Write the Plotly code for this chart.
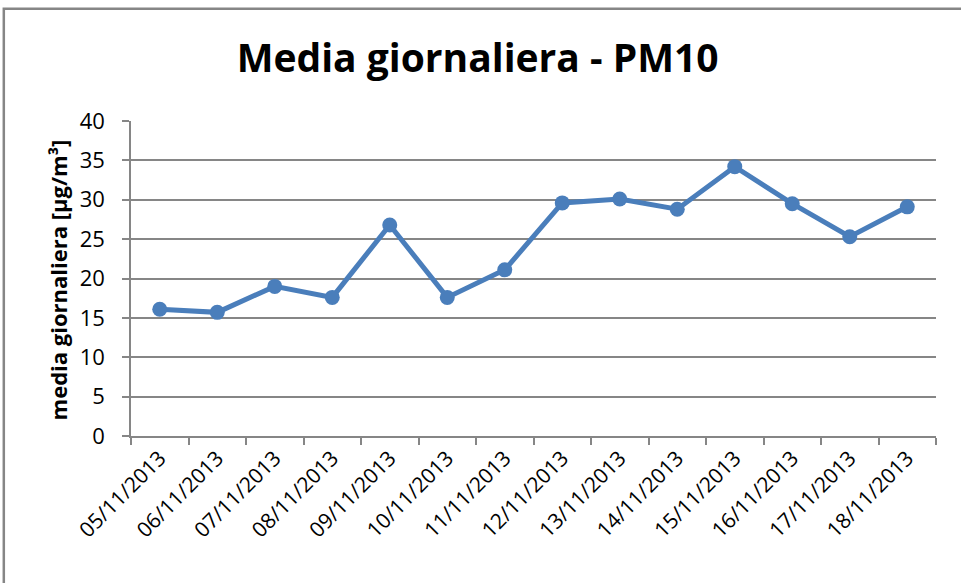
import plotly.graph_objects as go

dates = [
    "05/11/2013", "06/11/2013", "07/11/2013", "08/11/2013", "09/11/2013",
    "10/11/2013", "11/11/2013", "12/11/2013", "13/11/2013", "14/11/2013",
    "15/11/2013", "16/11/2013", "17/11/2013", "18/11/2013",
]
pm10 = [16.1, 15.7, 19.0, 17.6, 26.8, 17.6, 21.1, 29.6, 30.1, 28.8, 34.2, 29.5, 25.3, 29.1]

y_ticks = [0, 5, 10, 15, 20, 25, 30, 35, 40]

blue = "#4A7EBB"
grey = "#868686"
font = "Open Sans"

fig = go.Figure()

fig.add_trace(
    go.Scatter(
        x=dates,
        y=pm10,
        mode="lines+markers",
        line=dict(color=blue, width=5),
        marker=dict(color=blue, size=15),
        showlegend=False,
    )
)

fig.update_layout(
    width=961,
    height=583,
    margin=dict(l=131, r=25, t=121, b=147),
    paper_bgcolor="white",
    plot_bgcolor="white",
    font=dict(family=font, color="black"),
    title=dict(
        text="<b>Media giornaliera - PM10</b>",
        font=dict(family=font, size=39, color="black"),
        x=0.497,
        xanchor="center",
        y=0.9,
        yanchor="middle",
    ),
    xaxis=dict(
        type="category",
        tickson="boundaries",
        ticks="outside",
        ticklen=7,
        tickcolor=grey,
        tickwidth=1.5,
        tickangle=-45,
        tickfont=dict(size=21),
        showline=True,
        linecolor=grey,
        linewidth=1.5,
        showgrid=False,
        range=[-0.5, len(dates) - 0.5],
    ),
    yaxis=dict(
        range=[0, 40],
        tickvals=y_ticks,
        ticks="outside",
        ticklen=7,
        tickcolor=grey,
        tickwidth=1.5,
        tickfont=dict(size=22),
        ticklabelstandoff=13,
        showline=True,
        linecolor=grey,
        linewidth=1.5,
        showgrid=True,
        gridcolor=grey,
        gridwidth=1.5,
        zeroline=False,
    ),
)

fig.add_annotation(
    text="<b>media giornaliera [µg/m³]</b>",
    xref="paper",
    yref="paper",
    x=-0.0907,
    y=0.497,
    xanchor="center",
    yanchor="middle",
    textangle=-90,
    showarrow=False,
    font=dict(family=font, size=22, color="black"),
)

# chart area border (only top and left visible in the crop)
fig.add_shape(
    type="rect",
    xref="paper",
    yref="paper",
    x0=-0.158,
    x1=1.2,
    y0=-0.6,
    y1=1.356,
    line=dict(color=grey, width=2.5),
    layer="below",
)

fig.write_html(
    "out.html",
    config={"displayModeBar": False},
    post_script="document.body.style.margin='0';",
)
